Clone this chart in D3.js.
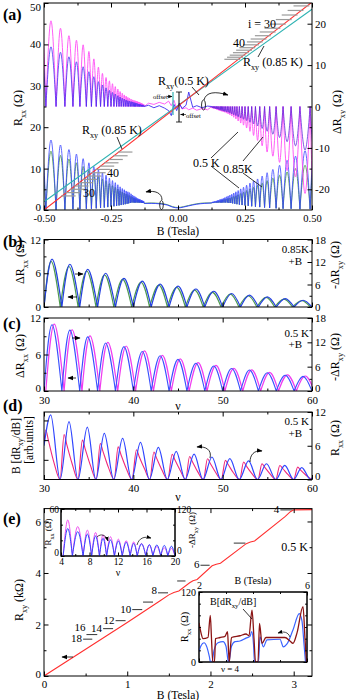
<!DOCTYPE html>
<html><head><meta charset="utf-8">
<script src="https://cdn.jsdelivr.net/npm/d3@7"></script>
<style>body{margin:0;background:#fff}svg{display:block}</style>
</head><body><svg id="c" width="346" height="700"></svg>
<script>
// ================= DATA =================
// Panel (a): arch boundaries (|B|, Tesla) of the SdH oscillations
const aBounds=[0.515,0.493,0.455,0.422,0.392,0.366,0.342,0.323,0.305,0.289,0.275,0.262,0.250,0.239,0.229,0.220,0.212,0.204,0.197,0.190,0.184,0.178,0.172,0.167,0.162,0.158,0.153,0.149,0.145,0.142,0.138,0.135,0.132,0.129,0.126];
const aMagTopL=[16,20.7,18.9,17.1,16.0,14.9,13.3,11.5,9.5,8.0,7.0,6.2,5.5,4.8,4.2,3.6,3.2,2.8,2.5,2.2,2.0,1.8,1.6,1.5,1.4,1.3,1.2,1.1,1.0,0.9,0.8,0.7,0.6,0.5];
const aBluTopL=[10,14.4,13.1,12.0,10.8,9.6,8.4,7.2,6.0,5.2,4.5,3.9,3.4,3.0,2.6,2.3,2.0,1.8,1.6,1.4,1.3,1.2,1.1,1.0,0.9,0.8,0.7,0.6,0.5,0.5,0.4,0.4,0.3,0.3];
const aMagTopR=[-19,-21,-17,-15.5,-13.5,-12,-11,-9.5,-8.2,-7,-6,-5.2,-4.5,-4,-3.5,-3,-2.6,-2.3,-2,-1.8,-1.6,-1.4,-1.3,-1.2,-1.1,-1,-0.9,-0.8,-0.7,-0.6,-0.5,-0.5,-0.4,-0.4];
const aBluTopR=[-9,-10.5,-9.5,-8.5,-7.5,-6.7,-6,-5.3,-4.7,-4.2,-3.8,-3.4,-3.1,-2.8,-2.5,-2.2,-2,-1.8,-1.6,-1.4,-1.3,-1.2,-1.1,-1,-0.9,-0.8,-0.7,-0.6,-0.5,-0.5,-0.4,-0.4,-0.3,-0.3];
const aBluBotL=[12,16.9,15.7,14.6,13.5,12.4,11.4,10.5,9.7,9.0,8.4,7.7,7.1,6.6,6.1,5.6,5.2,4.9,4.6,4.4,4.2,3.9,3.6,3.4,3.2,3.0,2.8,2.7,2.6,2.5,2.4,2.3,2.2,2.1];
const aGrnBotL=[9,14.2,13.2,12.3,11.4,10.5,9.6,8.8,8.1,7.5,7.0,6.4,5.9,5.5,5.1,4.7,4.4,4.1,3.9,3.7,3.5,3.3,3.1,2.9,2.8,2.6,2.5,2.4,2.3,2.2,2.1,2.0,2.0,1.9];
const aBotMinL=[0.1,0.1,0.1,0.1,0.2,0.2,0.3,0.3,0.4,0.5,0.6,0.7,0.8,0.9,1.0,1.1,1.2,1.3,1.4,1.5,1.6,1.7,1.8,1.8,1.8,1.8,1.8,1.8,1.8,1.8,1.8,1.7,1.7,1.7,1.6];
const aBluBotR=[12.5,14.3,13.0,12.0,10.8,9.8,9.0,8.2,7.5,7.0,6.5,6.0,5.5,5.1,4.7,4.4,4.1,3.8,3.6,3.4,3.2,3.0,2.8,2.7,2.6,2.5,2.4,2.3,2.2,2.1,2.1,2.0,2.0,1.9];
const aGrnBotR=[9.5,10.8,10.0,9.2,8.4,7.7,7.1,6.5,6.0,5.5,5.1,4.7,4.3,4.0,3.7,3.5,3.3,3.1,2.9,2.8,2.7,2.6,2.5,2.4,2.3,2.2,2.1,2.0,2.0,1.9,1.9,1.8,1.8,1.8];
const aBotMinR=[0.2,0.2,0.2,0.3,0.3,0.4,0.5,0.6,0.7,0.8,0.9,1.0,1.1,1.2,1.3,1.4,1.5,1.6,1.7,1.7,1.8,1.8,1.8,1.8,1.8,1.8,1.8,1.8,1.8,1.8,1.8,1.8,1.7,1.7,1.7];
const aTopCB=[-0.126,-0.11,-0.09,-0.07,-0.05,-0.035,-0.025,-0.015,-0.005,0.005,0.015,0.03,0.04,0.055,0.07,0.09,0.11,0.126];
const aMagTopC=[0,0.8,0.5,1.0,0.6,1.3,0.2,1.5,-0.5,0.8,-0.6,-0.3,-0.8,-0.4,-0.9,-0.5,-0.8,0];
const aBluTopC=[0,0.3,-0.3,0.2,-0.4,-1.0,-2.2,0.5,-1.0,0.8,-0.5,0.3,3.5,-0.2,0.2,-0.3,0.1,0];
const aBotCB=[-0.126,-0.1,-0.07,-0.04,-0.02,0,0.02,0.04,0.07,0.1,0.126];
const aBluBotC=[1.6,1.6,1.5,1.2,0.7,0.5,0.7,1.0,1.4,1.6,1.7];
const aGrnBotC=[1.6,1.7,1.6,1.3,0.8,0.6,0.8,1.1,1.5,1.7,1.7];
const aRxyB=[-0.5,0.5], aRxy05=[0,50.2], aRxy085=[2.0,48.5];
const aDashTR=[49.3,48.2,47.1,46.0,44.9,43.9,43.0,42.1,41.3,40.6,39.9,39.2,38.6,38.0,37.4,36.9,36.4];
const aDashBL=[14.0,13.1,12.2,11.4,10.6,9.8,9.0,8.2,7.4,6.6,5.8,5.0,4.2,3.4];
const aXTicks=[-0.5,-0.25,0,0.25,0.5], aLTicks=[0,10,20,30,40,50], aRTicks=[-20,-10,0,10,20];

// Panels (b)-(d): versus filling factor
const nuBounds=[30,32,34,36,38,40,42,44,46,48,50,52,54,56,58,60];
const bBluPeakNu=[30.9,32.9,34.9,36.9,38.95,41.0,43.0,45.0,47.0,49.0,51.0,53.0,55.0,57.0,59.0];
const bBlue=[12.75,11.4,10.05,9.0,7.65,6.9,6.1,5.55,4.8,4.2,3.6,3.15,2.7,2.25,1.8];
const bGrnBounds=[30,31.82,33.82,35.82,37.82,39.82,41.82,43.82,45.82,47.82,49.82,51.82,53.82,55.82,57.82,59.82];
const bGrnPeakNu=[30.8,32.78,34.78,36.78,38.8,40.85,42.85,44.85,46.85,48.85,50.85,52.85,54.85,56.85,58.85];
const bGreen=[8.1,7.2,6.4,5.7,4.9,4.4,3.9,3.5,3.0,2.6,2.3,2.0,1.7,1.4,1.15];
const cBlue=[10.9,10.0,8.9,7.9,7.3,6.5,5.8,5.2,4.55,4.1,3.7,3.45,3.0,2.6,2.4];
const cMagBounds=[30.2,32.25,34.25,36.25,38.25,40.25,42.25,44.25,46.25,48.25,50.25,52.25,54.25,56.25,58.25,60.25];
const cMagPeakNu=[31.15,33.15,35.15,37.15,39.2,41.25,43.25,45.25,47.25,49.25,51.25,53.25,55.25,57.25,59.25];
const cMag=[16.5,15.1,13.6,12.0,11.1,9.9,8.8,7.9,7.0,6.3,5.6,5.2,4.6,4.0,3.7];
const dBluStart=6.0, dBluEnd=0.3;
const dBluPeakNu=[30.75,32.8,34.85,36.75,38.8,40.8,42.8,44.8,46.8,48.8,50.8,52.9,54.9,56.95,58.85];
const dBluPeak=[11.5,10.3,9.3,8.2,7.3,6.6,5.7,5.0,4.5,4.0,3.7,3.3,2.8,2.5,2.1];
const dBluMinNu=[31.8,33.8,35.8,37.8,39.8,41.8,43.8,45.8,47.8,49.8,51.85,53.9,55.95,57.95,59.85];
const dPinkStart=6.5;
const dPinkPeakNu=[30.2,32.25,34.3,36.3,38.3,40.35,42.3,44.35,46.3,48.3,50.3,52.35,54.4,56.4,58.4];
const dPinkPeak=[8.8,8.0,7.0,6.4,5.8,5.3,4.9,4.5,4.1,3.7,3.4,3.1,2.8,2.5,2.2];
const dPinkKnee1=[6.9,6.2,5.5,5.0,4.5,4.1,3.8,3.5,3.2,2.9,2.7,2.4,2.2,2.0,1.7];
const dPinkKnee2=[3.1,2.8,2.5,2.2,2.0,1.9,1.7,1.6,1.4,1.3,1.2,1.1,1.0,0.9,0.8];
const dPinkMinNu=[31.8,33.8,35.85,37.85,39.85,41.85,43.85,45.85,47.85,49.85,51.9,53.95,55.95,57.95,59.95];

// Panel (e)
const eRxyB=[0,0.5,1.0,1.4,1.5,1.56,1.62,1.75,1.79,1.84,2.02,2.07,2.12,2.43,2.48,2.53,2.9,2.96,3.0,3.22];
const eRxy=[0,1.04,2.08,2.93,3.15,3.24,3.3,3.62,3.7,3.75,4.28,4.34,4.38,5.14,5.2,5.24,6.2,6.38,6.45,6.46];
const eQNu=[4,5,6,7,8,9,10,12,14,16,18];
const eQVal=[6.45,5.16,4.30,3.69,3.23,2.87,2.58,2.15,1.84,1.61,1.43];
const eQB0=[2.84,2.28,1.88,1.60,1.37,1.19,1.06,0.86,0.71,0.51,0.47];
const eQB1=[2.99,2.42,1.99,1.70,1.49,1.31,1.18,0.98,0.83,0.64,0.58];
const eQLabel=["4","","6","","8","","10","12","14","16","18"];
const i1Bounds=[4.3,5.6,7.1,8.3,9.4,10.4,11.5,12.6,13.7,14.7,15.9,16.9,18.0,19.0,20.0];
const i1Blue=[35,31,28,25.5,22.6,20.4,19,17.5,16,15.5,14.5,14,13.5,12.5];
const i1Mag=[92,75,66,60,54,49,43,39,36,32,28,24,21,19];
const i2MarB=[2.0,2.074,2.148,2.333,2.419,2.463,2.511,2.574,2.611,2.778,2.963,3.056,3.093,3.122,3.156,3.204,3.519,3.741,3.852,3.963,4.037,4.093,4.185,4.241,4.333,4.481,5.185,5.37,5.48,5.63,5.852,5.926,5.98];
const i2Mar=[67,50,40,42,80,40,0,0,40,42,44,52,20,0,20,42,45,48,45,89,40,0,0,66,32,42,42,36,32,50,95,40,0];
const i2BluB=[2.0,2.074,2.185,2.296,2.389,2.426,2.48,2.556,2.704,2.889,3.0,3.067,3.093,3.13,3.204,3.333,3.519,3.741,3.889,3.952,4.019,4.056,4.204,4.259,4.382,4.52,5.0,5.122,5.26,5.48,5.715,5.815,5.89,5.944];
const i2Blu=[18,28,33,25,8,0,0,20,33,35,27,5,0,5,27,35,36,41,44,52,30,0,0,43,26,38,39,26,31,55,83,70,30,0];

// ================= DRAWING =================
const FONT='"Liberation Serif","Times New Roman",serif';
const svg=d3.select("#c").attr("font-family",FONT);
const defs=svg.append("defs");
defs.append("marker").attr("id","ah").attr("viewBox","0 0 10 10").attr("refX",9).attr("refY",5)
  .attr("markerWidth",7).attr("markerHeight",7).attr("orient","auto-start-reverse")
  .append("path").attr("d","M0,1L10,5L0,9z").attr("fill","#000");
function clip(id,x0,y0,x1,y1){defs.append("clipPath").attr("id",id).append("rect").attr("x",x0).attr("y",y0).attr("width",x1-x0).attr("height",y1-y0);}
function frame(x0,y0,x1,y1,fill){svg.append("rect").attr("x",x0).attr("y",y0).attr("width",x1-x0).attr("height",y1-y0).attr("fill",fill||"none").attr("stroke","#000").attr("stroke-width",1);}
function axis(orient,scale,pos,major,minor,fmt,fs,len,pad){
  const mk={left:d3.axisLeft,right:d3.axisRight,bottom:d3.axisBottom,top:d3.axisTop}[orient];
  const tr=(orient==="left"||orient==="right")?`translate(${pos},0)`:`translate(0,${pos})`;
  if(minor){const g=svg.append("g").attr("transform",tr).call(mk(scale).tickValues(minor).tickSize(-(len||4.5)*0.55).tickFormat(""));g.select(".domain").remove();g.selectAll("line").attr("stroke","#000");}
  const g=svg.append("g").attr("transform",tr).call(mk(scale).tickValues(major).tickSize(-(len||4.5)).tickPadding(pad==null?3:pad).tickFormat(fmt||(()=>"")));
  g.select(".domain").remove();
  g.selectAll("line").attr("stroke","#000");
  g.selectAll("text").attr("font-family",FONT).attr("font-size",fs||11).attr("fill","#000");
  return g;
}
function rtext(x,y,parts,o={}){
  const fs=o.fs||12;
  const t=svg.append("text").attr("x",x).attr("y",y).attr("font-family",FONT).attr("font-size",fs)
    .attr("text-anchor",o.anchor||"start").attr("fill","#000");
  if(o.bold) t.attr("font-weight","bold");
  if(o.rot) t.attr("transform",`rotate(${o.rot},${x},${y})`);
  let shift=0;
  parts.forEach(p=>{
    const isSub=typeof p==="object";
    const target=isSub?fs*0.3:0;
    const ts=t.append("tspan").attr("dy",target-shift).text(isSub?p.sub:p);
    if(isSub) ts.attr("font-size",fs*0.68);
    shift=target;
  });
  return t;
}
function path(d,color,w,clipId,extra){
  const p=svg.append("path").attr("d",d).attr("fill","none").attr("stroke",color).attr("stroke-width",w||1);
  if(clipId) p.attr("clip-path",`url(#${clipId})`);
  if(extra) extra(p);
  return p;
}
function arrow(d,w){return path(d,"#000",w||0.8,null,p=>p.attr("marker-end","url(#ah)"));}
function seg(x0,y0,x1,y1,color,w){svg.append("line").attr("x1",x0).attr("y1",y0).attr("x2",x1).attr("y2",y1).attr("stroke",color||"#000").attr("stroke-width",w||0.8);}
function archD(xs,ys,bounds,peaks,peakPos,mins,sign){
  const ln=d3.line().x(p=>xs(p[0])).y(p=>ys(p[1])).curve(d3.curveNatural);
  let d="";
  for(let i=0;i<peaks.length;i++){
    const b0=sign*bounds[i],b1=sign*bounds[i+1];
    const pp=peakPos?peakPos[i]:(b0+b1)/2;
    const m0=Array.isArray(mins)?mins[i]:mins, m1=Array.isArray(mins)?mins[i+1]:mins;
    d+=ln([[b0,m0],[pp,peaks[i]],[b1,m1]]);
  }
  return d;
}
const lineXY=(xs,ys,X,Y,curve)=>d3.line().x((d,i)=>xs(X[i])).y((d,i)=>ys(Y[i])).curve(curve||d3.curveLinear)(X);
const nudge=(g,val,dy)=>g.selectAll("text").filter(d=>d===val).attr("dy",dy);

const MAG="#ff4df5", BLU="#2f3cff", GRN="#4f9a50", RED="#ff3030", TEAL="#2fb3b3", PINK="#f0287a";

// ---------- Panel (a) ----------
const ax=d3.scaleLinear().domain([-0.5,0.5]).range([44,312]);
const ayL=d3.scaleLinear().domain([0,50]).range([210,3]);
const ayR=d3.scaleLinear().domain([-25,25]).range([210,3]);
clip("ca",44,3,312,210);
path(archD(ax,ayL,aBounds,aGrnBotL,null,aBotMinL,-1),GRN,0.9,"ca");
path(archD(ax,ayL,aBounds,aGrnBotR,null,aBotMinR,1),GRN,0.9,"ca");
path(lineXY(ax,ayL,aBotCB,aGrnBotC,d3.curveMonotoneX),GRN,0.9,"ca");
path(archD(ax,ayL,aBounds,aBluBotL,null,aBotMinL,-1),BLU,0.9,"ca",p=>p.attr("stroke-opacity",0.85));
path(archD(ax,ayL,aBounds,aBluBotR,null,aBotMinR,1),BLU,0.9,"ca",p=>p.attr("stroke-opacity",0.85));
path(lineXY(ax,ayL,aBotCB,aBluBotC,d3.curveMonotoneX),BLU,0.9,"ca");
path(archD(ax,ayR,aBounds,aMagTopL,null,0,-1),MAG,0.9,"ca");
path(archD(ax,ayR,aBounds,aMagTopR,null,0,1),MAG,0.9,"ca");
path(lineXY(ax,ayR,aTopCB,aMagTopC),MAG,0.9,"ca");
path(archD(ax,ayR,aBounds,aBluTopL,null,0,-1),"#3b2cf0",0.9,"ca",p=>p.attr("stroke-opacity",0.85));
path(archD(ax,ayR,aBounds,aBluTopR,null,0,1),"#5a2ad8",0.9,"ca",p=>p.attr("stroke-opacity",0.85));
path(lineXY(ax,ayR,aTopCB,aBluTopC),"#3b2cf0",0.9,"ca");
path(lineXY(ax,ayL,aRxyB,aRxy085),TEAL,1.1,"ca");
path(lineXY(ax,ayL,aRxyB,aRxy05),RED,1.1,"ca");
// quantized plateau marks
aDashTR.forEach(v=>{const b=(v-25)/50;seg(ax(b-0.055),ayL(v),ax(b+0.004),ayL(v),"#9a9a9a",1.2);});
aDashBL.forEach(v=>{const b=(v-25)/50;seg(ax(b-0.004),ayL(v),ax(b+0.05),ayL(v),"#9a9a9a",1.2);});
frame(44,3,312,210);
const aLeftAx=axis("left",ayL,44,aLTicks,[5,15,25,35,45],d=>d,11);
nudge(aLeftAx,50,"0.7em");nudge(aLeftAx,0,"0.05em");
axis("right",ayR,312,aRTicks,[-15,-5,5,15],d=>d,11);
axis("bottom",ax,210,aXTicks,[-0.375,-0.125,0.125,0.375],d=>d.toFixed(2),10.5,4.5,4).selectAll("text").attr("dy","0.8em");
axis("top",ax,3,aXTicks,[-0.375,-0.125,0.125,0.375],null,11);
rtext(178,235,["B (Tesla)"],{anchor:"middle",fs:11.5});
rtext(22,108,["R",{sub:"xx"}," (Ω)"],{anchor:"middle",rot:-90,fs:12});
rtext(341,112,["ΔR",{sub:"xy"}," (Ω)"],{anchor:"middle",rot:-90,fs:12});
rtext(3,20,["(a)"],{fs:16,bold:true});
rtext(248,28,["i = 30"],{fs:12});
rtext(233,47,["40"],{fs:12});
rtext(243,66,["R",{sub:"xy"}," (0.85 K)"],{fs:12});
rtext(158,85,["R",{sub:"xy"},"(0.5 K)"],{fs:12});
rtext(82,134,["R",{sub:"xy"}," (0.85 K)"],{fs:12});
rtext(107,177,["40"],{fs:12});
rtext(83,197,["30"],{fs:12});
rtext(193,167,["0.5 K"],{fs:12});
rtext(223,173,["0.85K"],{fs:12});
seg(192,87,199,95);seg(258,57,264,46);seg(117,137,122,149);
seg(211,158,238,132);seg(211,166,239,188);seg(243,161,263,137);seg(243,173,262,187);
// offset annotation
seg(173,92,173,115,TEAL,1.2);seg(179,92,179,122,"#000",1);
seg(176,92,182,92);seg(176,122,182,122);
rtext(153,99,["offset"],{fs:6.5});
arrow("M167,96.5L172,96.5",0.6);
rtext(186,118,["offset"],{fs:6.5});
arrow("M186,114.5L180.5,114.5",0.6);
svg.append("ellipse").attr("cx",203.5).attr("cy",105).attr("rx",2).attr("ry",5).attr("fill","none").attr("stroke","#000").attr("stroke-width",0.8);
arrow("M204,100C206,92 215,91 228,95",0.8);
svg.append("ellipse").attr("cx",161.5).attr("cy",205).attr("rx",1.8).attr("ry",4.5).attr("fill","none").attr("stroke","#000").attr("stroke-width",0.8);
arrow("M162,200C162,193 155,190 146,192",0.8);

// ---------- Panels (b),(c),(d) ----------
const nx=d3.scaleLinear().domain([30,60]).range([44,312]);
const nuMajor=[30,40,50,60], nuMinor=[35,45,55];
// (b)
const byL=d3.scaleLinear().domain([0,12]).range([307,239.5]);
const byR=d3.scaleLinear().domain([0,18]).range([307,239.5]);
clip("cb",44,239.5,312,307);
path(archD(nx,byL,bGrnBounds,bGreen,bGrnPeakNu,0,1),GRN,1.2,"cb");
path(archD(nx,byR,nuBounds,bBlue,bBluPeakNu,0,1),"#2440e0",1.2,"cb");
frame(44,239.5,312,307);
axis("left",byL,44,[0,6,12],[3,9],d=>d,11);
axis("right",byR,312,[0,6,12,18],[3,9,15],d=>d,11);
axis("bottom",nx,307,nuMajor,nuMinor,null);
axis("top",nx,239.5,nuMajor,nuMinor,null);
rtext(3,247,["(b)"],{fs:16,bold:true});
rtext(24,262,["ΔR",{sub:"xx"}," (Ω)"],{anchor:"middle",rot:-90,fs:12});
rtext(339,265,["-ΔR",{sub:"xy"}," (Ω)"],{anchor:"middle",rot:-90,fs:12});
rtext(309,253,["0.85K"],{anchor:"end",fs:11});
rtext(302,265,["+B"],{anchor:"end",fs:11});
arrow("M75,274L83,274",0.8);arrow("M77,297L68,297",0.8);
// (c)
const cyL=d3.scaleLinear().domain([0,12]).range([391,318]);
const cyR=d3.scaleLinear().domain([0,18]).range([391,318]);
clip("cc",44,318,312,391);
path(archD(nx,cyR,cMagBounds,cMag,cMagPeakNu,0,1),"#f03cf0",1.2,"cc");
path(archD(nx,cyL,nuBounds,cBlue,bBluPeakNu,0,1),"#3a50ff",1.1,"cc");
frame(44,318,312,391);
nudge(axis("left",cyL,44,[0,6,12],[3,9],d=>d,11),0,"0.05em");
nudge(axis("right",cyR,312,[0,6,12,18],[3,9,15],d=>d,11),0,"0.0em");
axis("bottom",nx,391,nuMajor,nuMinor,d=>d,11).selectAll("text").attr("dy","0.9em");
axis("top",nx,318,nuMajor,nuMinor,null);
rtext(3,329,["(c)"],{fs:16,bold:true});
rtext(24,356,["ΔR",{sub:"xx"}," (Ω)"],{anchor:"middle",rot:-90,fs:12});
rtext(339,357,["-ΔR",{sub:"xy"}," (Ω)"],{anchor:"middle",rot:-90,fs:12});
rtext(309,337,["0.5 K"],{anchor:"end",fs:11});
rtext(302,348,["+B"],{anchor:"end",fs:11});
arrow("M72,338L80,338",0.8);arrow("M76,378L68,378",0.8);
rtext(178,410,["ν"],{anchor:"middle",fs:12});
// (d)
const dy=d3.scaleLinear().domain([0,12]).range([479.5,412]);
clip("cd",44,412,312,479.5);
const dPinkX=[30],dPinkY=[dPinkStart];
dPinkPeakNu.forEach((p,i)=>{dPinkX.push(p,p+0.3,p+0.9,dPinkMinNu[i]);dPinkY.push(dPinkPeak[i],dPinkKnee1[i],dPinkKnee2[i],0);});
const dBluX=[30],dBluY=[dBluStart];
dBluPeakNu.forEach((p,i)=>{dBluX.push(p,dBluMinNu[i]);dBluY.push(dBluPeak[i],0);});
dBluX.push(60);dBluY.push(dBluEnd);
path(lineXY(nx,dy,dPinkX,dPinkY,d3.curveMonotoneX),PINK,1.1,"cd");
path(lineXY(nx,dy,dBluX,dBluY,d3.curveMonotoneX),"#2f45ff",1.2,"cd");
frame(44,412,312,479.5);
axis("left",dy,44,[3.5,7,10.5],null,null);
nudge(axis("right",dy,312,[0,6,12],[3,9],d=>d,11),0,"0.0em");
axis("bottom",nx,479.5,nuMajor,nuMinor,d=>d,11).selectAll("text").attr("dy","0.9em");
axis("top",nx,412,nuMajor,nuMinor,null);
rtext(3,411,["(d)"],{fs:16,bold:true});
rtext(20,446,["B [dR",{sub:"xy"},"/dB]"],{anchor:"middle",rot:-90,fs:11.5});
rtext(33,440,["[arb.units]"],{anchor:"middle",rot:-90,fs:11.5});
rtext(339,438,["R",{sub:"xx"}," (Ω)"],{anchor:"middle",rot:-90,fs:12});
rtext(309,425,["0.5 K"],{anchor:"end",fs:11});
rtext(302,437,["+B"],{anchor:"end",fs:11});
rtext(178,501,["ν"],{anchor:"middle",fs:12});
arrow("M210,458C212,450 206,446 197,447",0.8);
arrow("M250,462C250,455 254,450 262,451",0.8);

// ---------- Panel (e) ----------
const ex=d3.scaleLinear().domain([0,3.22]).range([44,312]);
const ey=d3.scaleLinear().domain([0,6.5]).range([676,508.6]);
clip("ce",44,508.6,312,676);
eQNu.forEach((n,i)=>{seg(ex(eQB0[i]),ey(eQVal[i]),ex(eQB1[i]),ey(eQVal[i]),"#444",1.1);
  if(eQLabel[i]) rtext(ex(eQB0[i])-1,ey(eQVal[i])+(n===16?-4:(n===8?1:3)),[eQLabel[i]],{anchor:"end",fs:11});});
path(lineXY(ex,ey,eRxyB,eRxy),RED,1.1,"ce");
frame(44,508.6,312,676);
nudge(axis("left",ey,44,[0,2,4,6],[1,3,5],d=>d,11),0,"0.1em");
axis("right",ey,312,[0,2,4,6],[1,3,5],null);
axis("bottom",ex,676,[0,1,2,3],[0.5,1.5,2.5],d=>d,11).selectAll("text").attr("dy","0.85em");
axis("top",ex,508.6,[0,1,2,3],[0.5,1.5,2.5],null);
rtext(178,699,["B (Tesla)"],{anchor:"middle",fs:11.5});
rtext(23,600,["R",{sub:"xy"}," (kΩ)"],{anchor:"middle",rot:-90,fs:12});
rtext(3,524,["(e)"],{fs:16,bold:true});
rtext(308,551,["0.5 K"],{anchor:"end",fs:12});
arrow("M73,657L62,657",0.8);
// inset 1
const i1x=d3.scaleLinear().domain([4,20]).range([61,175]);
const i1yL=d3.scaleLinear().domain([0,60]).range([556,509]);
const i1yR=d3.scaleLinear().domain([0,120]).range([556,509]);
frame(61,509,175,556,"#fff");
clip("ci1",61,509,175,556);
path(archD(i1x,i1yR,i1Bounds,i1Mag,null,0,1),"#f050f0",1,"ci1");
path(archD(i1x,i1yL,i1Bounds,i1Blue,null,0,1),"#2f45ff",1,"ci1");
frame(61,509,175,556);
nudge(axis("left",i1yL,61,[0,60],[20,40],d=>d,9.5,3.5,2),0,"-0.1em");
const i1R=axis("right",i1yR,175,[0,120],[40,80],d=>d,9.5,3.5,2);
nudge(i1R,0,"-0.25em");
axis("bottom",i1x,556,[4,8,12,16,20],[6,10,14,18],d=>d,9.5,3.5,1.5).selectAll("text").attr("dy","0.8em");
axis("top",i1x,509,[4,8,12,16,20],[6,10,14,18],null,10,3.5);
rtext(51,532,["R",{sub:"xx"}," (Ω)"],{anchor:"middle",rot:-90,fs:9});
rtext(195,530,["-ΔR",{sub:"xy"}," (Ω)"],{anchor:"middle",rot:-90,fs:9});
rtext(118,576,["ν"],{anchor:"middle",fs:10});
arrow("M97,537C101,533 106,535 108,541",0.7);
arrow("M137,545C139,538 144,536 151,538",0.7);
// inset 2
const i2x=d3.scaleLinear().domain([2,6]).range([199,307]);
const i2y=d3.scaleLinear().domain([0,120]).range([662,592]);
frame(199,592,307,662,"#fff");
clip("ci2",199,592,307,662);
path(lineXY(i2x,i2y,i2BluB,i2Blu,d3.curveMonotoneX),"#3a63ff",1.2,"ci2");
path(lineXY(i2x,i2y,i2MarB,i2Mar,d3.curveMonotoneX),"#8c1414",1.3,"ci2");
frame(199,592,307,662);
axis("left",i2y,199,[0,120],[20,40,60,80,100],d=>d,10,3.5);
axis("right",i2y,307,[0,120],[20,40,60,80,100],null,10,3.5);
axis("top",i2x,592,[2,6],[3,4,5],d=>d,10,3.5);
axis("bottom",i2x,662,[2,6],[3,4,5],null,10,3.5);
rtext(253,584,["B (Tesla)"],{anchor:"middle",fs:10});
rtext(188,627,["R",{sub:"xx"}," (Ω)"],{anchor:"middle",rot:-90,fs:10});
rtext(210,605,["B[dR",{sub:"xy"},"/dB]"],{fs:10});
seg(243,609,252,619);
rtext(230,672,["ν = 4"],{anchor:"middle",fs:9});
arrow("M290,637C288,632 284,631 278,633",0.7);
</script></body></html>
